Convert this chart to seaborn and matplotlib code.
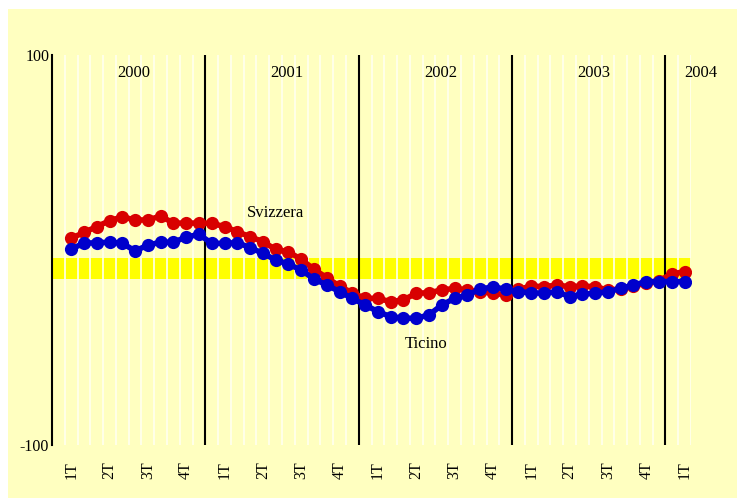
import numpy as np
import pandas as pd
import matplotlib
matplotlib.use("Agg")
import matplotlib.pyplot as plt
import seaborn as sns
from matplotlib.patches import Rectangle

# ---- data (monthly, Feb 2000 .. Feb 2004) ----
years = ["2000", "2001", "2002", "2003", "2004"]
quarters = ["1T", "2T", "3T", "4T"]
svizzera = [6, 9, 12, 15, 17, 15.4, 15.4, 17.4, 13.8, 13.8, 13.8,
            13.7, 12, 9.4, 6.8, 4.3, 0.3, -0.9, -4.8, -9.9, -14.2, -18.5, -22,
            -24.8, -24.8, -26.5, -25.6, -22.2, -21.9, -20.5, -19.7, -20.5, -21.4, -22.2, -23,
            -20.2, -18.5, -18.8, -18, -18.8, -18.5, -18.8, -20.5, -20, -18.5, -17, -15.7,
            -12.3, -11.1]
ticino = [0.5, 3.5, 3.7, 4, 3.5, -0.5, 2.5, 4, 4, 6.6, 8,
          3.4, 3.4, 3.8, 1.2, -1.7, -5.1, -7.2, -10.3, -14.9, -17.9, -21.4, -24.8,
          -28.2, -31.6, -34.2, -35, -35, -33.3, -28.2, -24.8, -23, -20.2, -18.8, -20.2,
          -21.4, -21.9, -22.2, -21.4, -23.9, -22.6, -22.2, -21.4, -19.7, -18, -16.2, -16.2,
          -16.2, -16.2]
series_names = ["Svizzera", "Ticino"]
band = (-15, -4)
first_month = 1      # index of Feb 2000
n_months = 50        # Jan 2000 .. Feb 2004

sns.set_theme(style="white")
plt.rcParams["font.family"] = ["Liberation Serif", "DejaVu Serif"]

fig = plt.figure(figsize=(7.37, 4.98), dpi=100, facecolor="white")
bg = Rectangle((8 / 737, 0), 1, (498 - 9) / 498, transform=fig.transFigure,
               facecolor="#FFFFC0", edgecolor="none", zorder=-10)
fig.patches.append(bg)
ax = fig.add_axes([52 / 737, 53 / 498, (691 - 52) / 737, 390 / 498])
ax.set_zorder(1)
ax.set_facecolor("none")

n = len(svizzera)
months = np.arange(first_month, first_month + n) + 0.5
df = pd.DataFrame({
    "mese": np.concatenate([months, months]),
    "valore": svizzera + ticino,
    "serie": [series_names[0]] * n + [series_names[1]] * n,
})

ax.axhspan(band[0], band[1], color="#FFFF00", lw=0, zorder=1)
for b in range(1, n_months + 1):
    if b % 12:
        ax.axvline(b, color="#FFFFF0", lw=1.2, zorder=2)
for b in range(12, n_months, 12):
    ax.axvline(b, color="black", lw=1.5, zorder=3)

sns.lineplot(data=df, x="mese", y="valore", hue="serie",
             palette={"Svizzera": "#D80000", "Ticino": "#0000CC"},
             marker="o", markersize=9.5, linewidth=4, markeredgewidth=0,
             legend=False, ax=ax, zorder=4)

ax.set_xlim(0, n_months)
ax.set_ylim(-100, 100)
ax.set_xlabel("")
ax.set_ylabel("")
for s in ["top", "right", "bottom"]:
    ax.spines[s].set_visible(False)
ax.spines["left"].set_color("black")
ax.spines["left"].set_linewidth(1.5)

ticks, labels = [], []
for yi in range(len(years)):
    for qi, q in enumerate(quarters):
        pos = 12 * yi + 3 * qi + 1.5
        if pos < n_months:
            ticks.append(pos)
            labels.append(q)
ax.set_xticks(ticks)
ax.set_xticklabels(labels, rotation=90, fontsize=11.5, color="black")
ax.tick_params(axis="x", length=0, pad=12)
ax.set_yticks([-100, 100])
ax.set_yticklabels(["-100", "100"], fontsize=11.5, color="black")
ax.tick_params(axis="y", length=0, pad=2)

for yi, yr in enumerate(years):
    xc = 12 * yi + 6.4 if yi < 4 else 50.8
    ax.text(xc, 91, yr, ha="center", va="center", fontsize=12, color="black", clip_on=False)

ax.text(17.5, 19, series_names[0], ha="center", va="center", fontsize=12, color="black", zorder=5)
ax.text(29.3, -48, series_names[1], ha="center", va="center", fontsize=12, color="black", zorder=5)

fig.savefig("out.png", dpi=100, facecolor="white")
